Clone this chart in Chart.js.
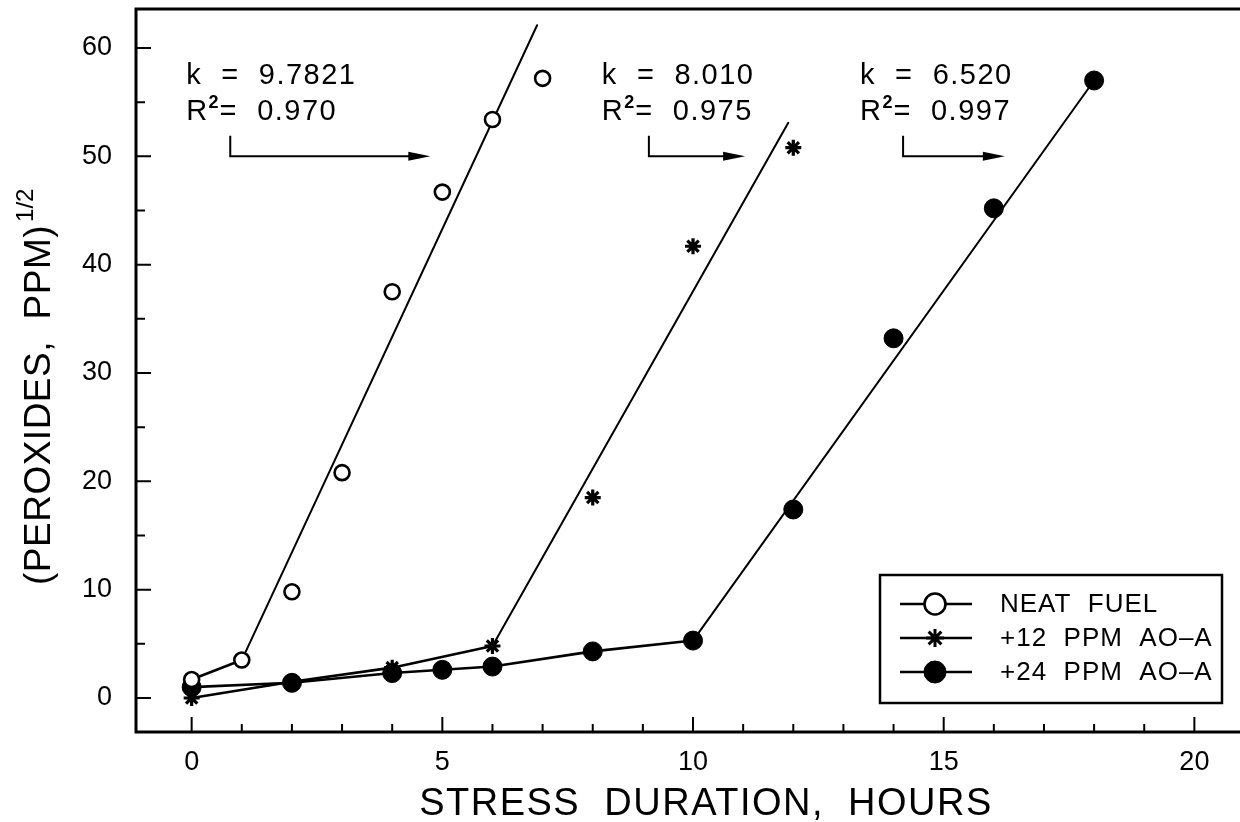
<!DOCTYPE html>
<html>
<head>
<meta charset="utf-8">
<title>Peroxide formation vs stress duration</title>
<script src="https://cdn.jsdelivr.net/npm/chart.js@4.4.1/dist/chart.umd.min.js"></script>
<style>
  html, body { margin: 0; padding: 0; background: #fff; }
  #wrap { width: 1240px; height: 822px; }
</style>
</head>
<body>
<div id="wrap"><canvas id="peroxChart" width="1240" height="822"></canvas></div>
<script>
// measured points, sqrt of peroxide number (ppm) vs stress hours
const neatHours = [0, 1, 2, 3, 4, 5, 6, 7];
const neatValues = [1.7, 3.5, 9.8, 20.8, 37.5, 46.7, 53.4, 57.2];
const ao12Hours = [0, 2, 4, 6, 8, 10, 12];
const ao12Values = [0.0, 1.5, 2.8, 4.8, 18.5, 41.7, 50.8];
const ao24Hours = [0, 2, 4, 5, 6, 8, 10, 12, 14, 16, 18];
const ao24Values = [1.0, 1.4, 2.3, 2.6, 2.9, 4.3, 5.3, 17.4, 33.2, 45.2, 57.0];

// last point of the induction period (joined point to point)
const neatOnset = 1;
const ao12Onset = 3;
const ao24Onset = 6;

// fitted lines: start / end
const neatFitHours = [1, 6.89];
const neatFitValues = [3.5, 62.1];
const ao12FitHours = [6, 11.9];
const ao12FitValues = [4.8, 53.1];
const ao24FitHours = [10, 18];
const ao24FitValues = [5.3, 57.0];

const seriesLabels = ["NEAT  FUEL", "+12  PPM  AO\u2013A", "+24  PPM  AO\u2013A"];
const rateLabels = ["9.7821", "8.010", "6.520"];
const r2Labels = ["0.970", "0.975", "0.997"];
const xTicks = [0, 5, 10, 15, 20];
const yTicks = [0, 10, 20, 30, 40, 50, 60];

const FONT = '"Liberation Sans", Arial, Helvetica, sans-serif';
const font = (size) => size + "px " + FONT;

function toPoints(xs, ys) {
  return xs.map((h, i) => ({ x: h, y: ys[i] }));
}

const pointSets = [
  { label: seriesLabels[0], data: toPoints(neatHours, neatValues), pointStyle: "circle", pointRadius: 7.5, pointBorderWidth: 2.6, pointBackgroundColor: "#fff" },
  { label: seriesLabels[1], data: toPoints(ao12Hours, ao12Values), pointStyle: "star", pointRadius: 8, pointBorderWidth: 3.2, pointBackgroundColor: "#000" },
  { label: seriesLabels[2], data: toPoints(ao24Hours, ao24Values), pointStyle: "circle", pointRadius: 9.5, pointBorderWidth: 1, pointBackgroundColor: "#000" },
];

const lineSets = [
  toPoints(neatHours.slice(0, neatOnset + 1), neatValues),
  toPoints(ao12Hours.slice(0, ao12Onset + 1), ao12Values),
  toPoints(ao24Hours.slice(0, ao24Onset + 1), ao24Values),
  toPoints(neatFitHours, neatFitValues),
  toPoints(ao12FitHours, ao12FitValues),
  toPoints(ao24FitHours, ao24FitValues),
];

const datasets = [];
pointSets.forEach((p) => {
  datasets.push({
    label: p.label,
    data: p.data,
    showLine: false,
    pointStyle: p.pointStyle,
    pointRadius: p.pointRadius,
    pointBorderWidth: p.pointBorderWidth,
    pointBackgroundColor: p.pointBackgroundColor,
    pointBorderColor: "#000",
  });
});
lineSets.forEach((d, i) => {
  datasets.push({
    label: "line" + i,
    data: d,
    showLine: true,
    pointRadius: 0,
    borderColor: "#000",
    borderWidth: i < 3 ? 2.6 : 2,
    tension: 0,
  });
});

// frame, inward tick marks, annotations, legend and axis titles
const decor = {
  id: "decor",
  beforeDatasetsDraw(chart) {
    const { ctx, chartArea: a, scales: { x, y } } = chart;
    ctx.save();
    ctx.strokeStyle = "#000";
    ctx.lineWidth = 3;
    ctx.beginPath();
    ctx.moveTo(a.right, a.top);
    ctx.lineTo(a.left, a.top);
    ctx.lineTo(a.left, a.bottom);
    ctx.lineTo(a.right, a.bottom);
    ctx.stroke();
    ctx.lineWidth = 2;
    ctx.beginPath();
    for (let h = 0; h <= 20; h++) {
      const p = x.getPixelForValue(h);
      ctx.moveTo(p, a.bottom);
      ctx.lineTo(p, a.bottom - (h % 5 === 0 ? 15 : 8));
    }
    for (let v = 0; v <= 60; v += 5) {
      const p = y.getPixelForValue(v);
      ctx.moveTo(a.left, p);
      ctx.lineTo(a.left + (v % 10 === 0 ? 15 : 9), p);
    }
    ctx.stroke();
    ctx.restore();
  },
  afterDatasetsDraw(chart) {
    const { ctx, chartArea: a, scales: { x, y } } = chart;
    ctx.save();
    ctx.fillStyle = "#000";
    ctx.strokeStyle = "#000";

    // k / R^2 notes with elbow arrows
    const notes = [
      { tx: -0.11, ex: 0.77, ax: 4.76 },
      { tx: 8.18, ex: 9.12, ax: 11.04 },
      { tx: 13.33, ex: 14.19, ax: 16.22 },
    ];
    notes.forEach((n, i) => {
      const tx = x.getPixelForValue(n.tx);
      ctx.font = font(29);
      ctx.letterSpacing = "1.5px";
      ctx.textBaseline = "middle";
      ctx.textAlign = "left";
      ctx.fillText("k  =  " + rateLabels[i], tx, y.getPixelForValue(57.4));
      const ry = y.getPixelForValue(54.1);
      ctx.fillText("R", tx, ry);
      const rw = ctx.measureText("R").width;
      ctx.font = "bold " + font(18);
      ctx.letterSpacing = "0px";
      ctx.fillText("2", tx + rw, ry - 9);
      const sw = ctx.measureText("2").width;
      ctx.font = font(29);
      ctx.letterSpacing = "1.5px";
      ctx.fillText("=  " + r2Labels[i], tx + rw + sw + 1, ry);

      const ex = x.getPixelForValue(n.ex);
      const ax = x.getPixelForValue(n.ax);
      const top = y.getPixelForValue(51.9);
      const hy = y.getPixelForValue(50.0);
      ctx.lineWidth = 2;
      ctx.beginPath();
      ctx.moveTo(ex, top);
      ctx.lineTo(ex, hy);
      ctx.lineTo(ax - 18, hy);
      ctx.stroke();
      ctx.beginPath();
      ctx.moveTo(ax, hy);
      ctx.lineTo(ax - 22, hy - 4.5);
      ctx.lineTo(ax - 22, hy + 4.5);
      ctx.closePath();
      ctx.fill();
    });

    // legend box
    const box = { l: a.right - 360, t: 575, r: a.right - 18, b: 703 };
    ctx.lineWidth = 2.5;
    ctx.strokeRect(box.l, box.t, box.r - box.l, box.b - box.t);
    const rows = [604, 638, 672];
    const legendMarks = [
      { pointStyle: "circle", radius: 10.5, borderWidth: 2.6, backgroundColor: "#fff", borderColor: "#000" },
      { pointStyle: "star", radius: 9, borderWidth: 3, backgroundColor: "#000", borderColor: "#000" },
      { pointStyle: "circle", radius: 11, borderWidth: 1, backgroundColor: "#000", borderColor: "#000" },
    ];
    rows.forEach((ry, i) => {
      ctx.lineWidth = 2.6;
      ctx.beginPath();
      ctx.moveTo(box.l + 20, ry);
      ctx.lineTo(box.l + 92, ry);
      ctx.stroke();
      const m = legendMarks[i];
      ctx.fillStyle = m.backgroundColor;
      ctx.strokeStyle = m.borderColor;
      ctx.lineWidth = m.borderWidth;
      Chart.helpers.drawPoint(ctx, { pointStyle: m.pointStyle, radius: m.radius, rotation: 0, borderWidth: m.borderWidth }, box.l + 55, ry);
      ctx.fillStyle = "#000";
      ctx.strokeStyle = "#000";
      ctx.font = font(26);
      ctx.letterSpacing = "1px";
      ctx.textAlign = "left";
      ctx.textBaseline = "middle";
      ctx.fillText(seriesLabels[i], box.l + 120, ry + 1);
    });

    // axis titles
    ctx.font = font(38);
    ctx.letterSpacing = "1.5px";
    ctx.textAlign = "center";
    ctx.textBaseline = "alphabetic";
    ctx.fillText("STRESS  DURATION,  HOURS", 706, 815);

    ctx.translate(50, 585);
    ctx.rotate(-Math.PI / 2);
    ctx.textAlign = "left";
    ctx.font = font(37);
    ctx.letterSpacing = "0.5px";
    const main = "(PEROXIDES,  PPM)";
    ctx.fillText(main, 0, 0);
    const mw = ctx.measureText(main).width;
    ctx.font = font(24);
    ctx.letterSpacing = "0px";
    ctx.fillText("1/2", mw + 3, -17);
    ctx.restore();
  },
};

new Chart(document.getElementById("peroxChart"), {
  type: "scatter",
  data: { datasets: datasets },
  options: {
    responsive: false,
    animation: false,
    layout: { autoPadding: false, padding: { top: 9, right: 0, bottom: 0, left: 0 } },
    plugins: { legend: { display: false }, tooltip: { enabled: false } },
    elements: { line: { borderCapStyle: "round" } },
    scales: {
      x: {
        type: "linear",
        min: -1.11,
        max: 20.91,
        grid: { display: false, drawTicks: false },
        border: { display: false },
        afterBuildTicks: (s) => { s.ticks = xTicks.map((v) => ({ value: v })); },
        afterFit: (s) => { s.height = 90; s.paddingLeft = 0; s.paddingRight = 0; },
        ticks: { color: "#000", padding: 14, font: { family: FONT, size: 27 }, maxRotation: 0 },
      },
      y: {
        type: "linear",
        min: -3.14,
        max: 63.6,
        grid: { display: false, drawTicks: false },
        border: { display: false },
        afterBuildTicks: (s) => { s.ticks = yTicks.map((v) => ({ value: v })); },
        afterFit: (s) => { s.width = 136; s.paddingTop = 0; s.paddingBottom = 0; },
        ticks: { color: "#000", padding: 24, font: { family: FONT, size: 27 } },
      },
    },
  },
  plugins: [decor],
});
</script>
</body>
</html>
